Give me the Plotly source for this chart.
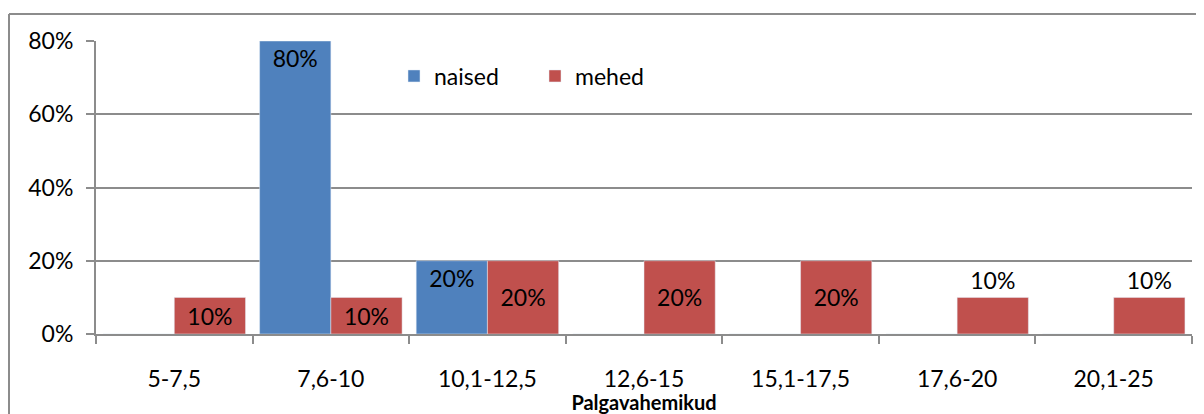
import plotly.graph_objects as go

categories = ["5-7,5", "7,6-10", "10,1-12,5", "12,6-15", "15,1-17,5", "17,6-20", "20,1-25"]
naised = [0, 0.8, 0.2, 0, 0, 0, 0]
mehed = [0.1, 0.1, 0.2, 0.2, 0.2, 0.1, 0.1]
naised_pos = ["none", "inside", "inside", "none", "none", "none", "none"]
mehed_pos = ["inside", "inside", "inside", "inside", "inside", "outside", "outside"]

FONT = "Lato"
FS = 23
BLUE = "#4F81BD"
RED = "#C0504D"
GRID = "#8C8C8C"

# page body has an 8px margin; work in screen pixels and convert
OFF = 8
W, H = 1204 - OFF, 414 - OFF
ml, mt = 96 - OFF, 41 - OFF
plot_r, plot_b = 1192 - OFF, 334 - OFF
mr, mb = W - plot_r, H - plot_b
pw, ph = plot_r - ml, plot_b - mt

def px_x(x):  # screen px -> paper
    return (x - OFF - ml) / pw

def px_y(y):
    return 1 - (y - OFF - mt) / ph

fig = go.Figure()
fig.add_trace(go.Bar(
    name="naised", x=categories, y=naised, marker_color=BLUE,
    text=[f"{v:.0%}" for v in naised], textposition=naised_pos,
    insidetextanchor="end", textangle=0,
    textfont=dict(family=FONT, size=FS, color="black"),
    cliponaxis=False,
))
fig.add_trace(go.Bar(
    name="mehed", x=categories, y=mehed, marker_color=RED,
    text=[f"{v:.0%}" for v in mehed], textposition=mehed_pos,
    insidetextanchor="middle", textangle=0,
    textfont=dict(family=FONT, size=FS, color="black"),
    cliponaxis=False,
))

fig.update_layout(
    width=W, height=H,
    margin=dict(l=ml, r=mr, t=mt, b=mb, autoexpand=False),
    barmode="group", bargap=0.09, bargroupgap=0,
    plot_bgcolor="white", paper_bgcolor="white",
    font=dict(family=FONT, size=FS, color="black"),
    legend=dict(
        orientation="h", x=px_x(394), y=px_y(76), xanchor="left", yanchor="middle",
        bgcolor="rgba(0,0,0,0)", font=dict(family=FONT, size=FS),
        entrywidth=96, entrywidthmode="pixels", traceorder="normal",
    ),
    xaxis=dict(
        automargin=False,
        showline=True, linecolor=GRID, linewidth=2,
        ticks="outside", tickson="boundaries", ticklen=8, tickcolor=GRID, tickwidth=2,
        ticklabelstandoff=23,
        title=dict(text="Palgavahemikud", font=dict(family=FONT, size=20, weight="bold"), standoff=1),
        showgrid=False,
    ),
    yaxis=dict(
        automargin=False,
        range=[0, 0.8], dtick=0.2, tickformat=".0%",
        showline=True, linecolor=GRID, linewidth=2,
        ticks="outside", ticklen=8, tickcolor=GRID, tickwidth=2,
        ticklabelstandoff=8,
        showgrid=True, gridcolor=GRID, gridwidth=2,
        zeroline=False,
    ),
    shapes=[
        dict(type="line", xref="paper", yref="paper", x0=px_x(9), x1=px_x(1210),
             y0=px_y(14), y1=px_y(14), line=dict(color=GRID, width=2)),
        dict(type="line", xref="paper", yref="paper", x0=px_x(9), x1=px_x(9),
             y0=px_y(14), y1=px_y(420), line=dict(color=GRID, width=2)),
    ],
)

fig.write_html("out.html")
